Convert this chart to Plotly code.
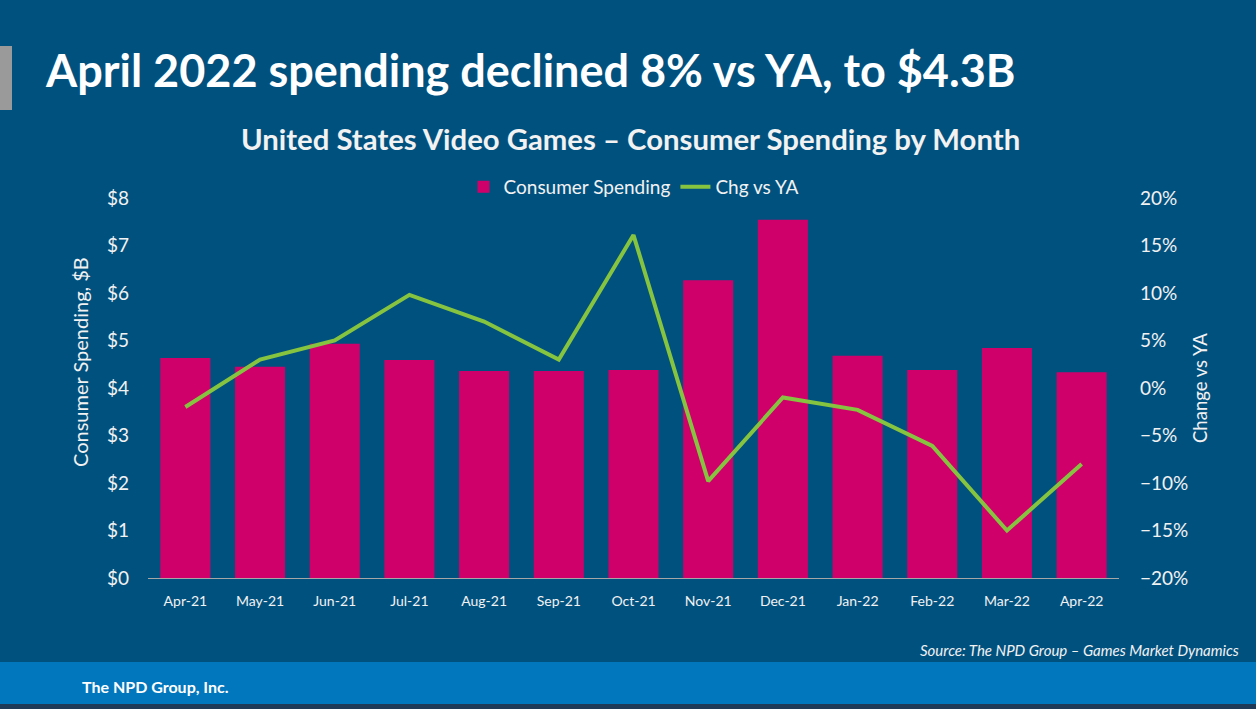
import plotly.graph_objects as go

months = ["Apr-21", "May-21", "Jun-21", "Jul-21", "Aug-21", "Sep-21", "Oct-21",
          "Nov-21", "Dec-21", "Jan-22", "Feb-22", "Mar-22", "Apr-22"]
spending = [4.63, 4.45, 4.93, 4.59, 4.36, 4.36, 4.38, 6.27, 7.54, 4.68, 4.38, 4.84, 4.33]
chg_vs_ya = [-0.020, 0.030, 0.050, 0.098, 0.070, 0.030, 0.161, -0.098, -0.010, -0.023, -0.061, -0.150, -0.080]
left_ticks = [0, 1, 2, 3, 4, 5, 6, 7, 8]
left_labels = ["$" + str(v) for v in left_ticks]

W, H = 1256, 709
L, R, T, B = 148, 1119, 198, 578
BG = "#01517F"
FONT = "Lato"

def px(x):
    return (x - L) / (R - L)

def py(y):
    return (B - y) / (B - T)

fig = go.Figure()
fig.add_trace(go.Bar(x=months, y=spending, name="Consumer Spending",
                     marker=dict(color="#D0006A", line=dict(width=0)), yaxis="y"))
fig.add_trace(go.Scatter(x=months, y=chg_vs_ya, name="Chg vs YA", mode="lines",
                         line=dict(color="#86C440", width=4), yaxis="y2"))

shapes = [
    dict(type="rect", xref="paper", yref="paper", x0=px(0), x1=px(W), y0=py(704), y1=py(662),
         fillcolor="#0177BE", line=dict(width=0), layer="below"),
    dict(type="rect", xref="paper", yref="paper", x0=px(0), x1=px(W), y0=py(H), y1=py(704),
         fillcolor="#1E3A56", line=dict(width=0), layer="below"),
    dict(type="rect", xref="paper", yref="paper", x0=px(0), x1=px(12), y0=py(110), y1=py(46),
         fillcolor="#9A9A9A", line=dict(width=0), layer="below"),
]

annotations = [
    dict(text="<b>April 2022 spending declined 8% vs YA, to $4.3B</b>", xref="paper", yref="paper",
         x=px(43), y=py(70), xanchor="left", yanchor="middle", showarrow=False,
         font=dict(family=FONT, size=45, color="white")),
    dict(text="<b>United States Video Games – Consumer Spending by Month</b>", xref="paper", yref="paper",
         x=px(630), y=py(138), xanchor="center", yanchor="middle", showarrow=False,
         font=dict(family=FONT, size=29.3, color="#F2F2F2")),
    dict(text="Consumer Spending, $B", xref="paper", yref="paper", x=px(80), y=py(362),
         xanchor="center", yanchor="middle", textangle=-90, showarrow=False,
         font=dict(family=FONT, size=20, color="#F2F2F2")),
    dict(text="Change vs YA", xref="paper", yref="paper", x=px(1200), y=py(388),
         xanchor="center", yanchor="middle", textangle=-90, showarrow=False,
         font=dict(family=FONT, size=18.5, color="#F2F2F2")),
    dict(text="<i>Source: The NPD Group – Games Market Dynamics</i>", xref="paper", yref="paper",
         x=px(1241), y=py(650), xanchor="right", yanchor="middle", showarrow=False,
         font=dict(family=FONT, size=15, color="#F2F2F2")),
    dict(text="<b>The NPD Group, Inc.</b>", xref="paper", yref="paper",
         x=px(80), y=py(686), xanchor="left", yanchor="middle", showarrow=False,
         font=dict(family=FONT, size=16, color="white")),
]

fig.update_layout(
    width=W, height=H,
    margin=dict(l=L, r=W - R, t=T, b=H - B, pad=0),
    paper_bgcolor=BG, plot_bgcolor=BG,
    font=dict(family=FONT, color="#F2F2F2"),
    bargap=0.33,
    showlegend=True,
    legend=dict(orientation="h", x=0.5, xanchor="center", y=py(187), yanchor="middle",
                font=dict(family=FONT, size=19, color="#F2F2F2"), bgcolor="rgba(0,0,0,0)",
                itemwidth=30, tracegroupgap=0),
    xaxis=dict(showgrid=False, showline=True, linecolor="#A6A6A6", linewidth=1,
               ticks="", tickfont=dict(family=FONT, size=14, color="#F2F2F2"),
               ticklabelstandoff=10, zeroline=False, fixedrange=True),
    yaxis=dict(range=[0, 8], tickvals=left_ticks, ticktext=left_labels, showgrid=False,
               zeroline=False, showline=False, tickfont=dict(family=FONT, size=19, color="#F2F2F2"),
               ticklabelstandoff=18),
    yaxis2=dict(range=[-0.2, 0.2], dtick=0.05, tickformat=".0%", overlaying="y", side="right",
                showgrid=False, zeroline=False, showline=False,
                tickfont=dict(family=FONT, size=19, color="#F2F2F2"), ticklabelstandoff=20),
    shapes=shapes,
    annotations=annotations,
)

fig.write_html("out.html", config={"displayModeBar": False},
               post_script="document.body.style.margin='0';document.body.style.background='" + BG + "';")
